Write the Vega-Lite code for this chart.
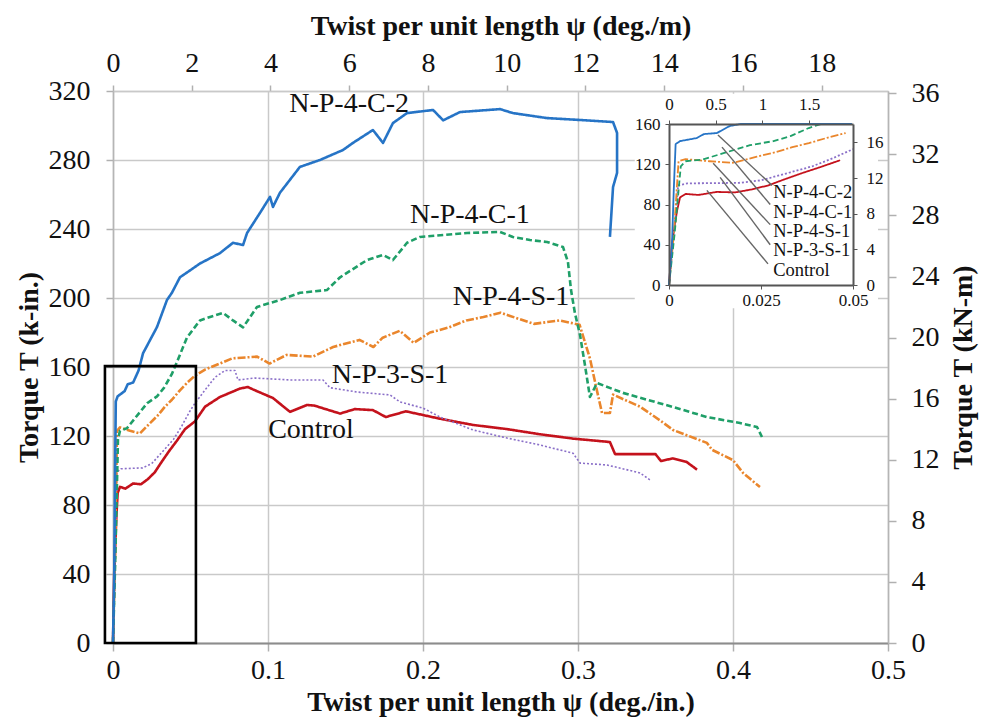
{
  "$schema": "https://vega.github.io/schema/vega-lite/v6.json",
  "width": 775,
  "height": 552,
  "autosize": {"type": "none"},
  "padding": {"left": 113, "top": 91, "right": 96, "bottom": 78},
  "background": "white",
  "config": {
    "view": {"stroke": null},
    "font": "Liberation Serif",
    "axis": {"labelFont": "Liberation Serif", "titleFont": "Liberation Serif", "labelColor": "#111", "titleColor": "#111"},
    "text": {"font": "Liberation Serif"}
  },
  "datasets": {
    "curves": [
      {"s": "Control", "i": 0, "x": 0, "y": 0},
      {"s": "Control", "i": 1, "x": 0.0008, "y": 41},
      {"s": "Control", "i": 2, "x": 0.0022, "y": 74},
      {"s": "Control", "i": 3, "x": 0.003, "y": 87},
      {"s": "Control", "i": 4, "x": 0.0045, "y": 90.5},
      {"s": "Control", "i": 5, "x": 0.008, "y": 89.5},
      {"s": "Control", "i": 6, "x": 0.013, "y": 92.5},
      {"s": "Control", "i": 7, "x": 0.018, "y": 92},
      {"s": "Control", "i": 8, "x": 0.0225, "y": 95},
      {"s": "Control", "i": 9, "x": 0.027, "y": 99},
      {"s": "Control", "i": 10, "x": 0.031, "y": 104.5},
      {"s": "Control", "i": 11, "x": 0.036, "y": 111},
      {"s": "Control", "i": 12, "x": 0.041, "y": 117},
      {"s": "Control", "i": 13, "x": 0.0465, "y": 124},
      {"s": "Control", "i": 14, "x": 0.0529, "y": 128.5},
      {"s": "Control", "i": 15, "x": 0.0594, "y": 137},
      {"s": "Control", "i": 16, "x": 0.069, "y": 142.6},
      {"s": "Control", "i": 17, "x": 0.0819, "y": 147.5},
      {"s": "Control", "i": 18, "x": 0.087, "y": 148.4},
      {"s": "Control", "i": 19, "x": 0.0903, "y": 147},
      {"s": "Control", "i": 20, "x": 0.1032, "y": 142},
      {"s": "Control", "i": 21, "x": 0.1142, "y": 134},
      {"s": "Control", "i": 22, "x": 0.1252, "y": 138},
      {"s": "Control", "i": 23, "x": 0.13, "y": 137.6},
      {"s": "Control", "i": 24, "x": 0.1465, "y": 133},
      {"s": "Control", "i": 25, "x": 0.156, "y": 135.6},
      {"s": "Control", "i": 26, "x": 0.1677, "y": 135},
      {"s": "Control", "i": 27, "x": 0.176, "y": 131},
      {"s": "Control", "i": 28, "x": 0.189, "y": 134.3},
      {"s": "Control", "i": 29, "x": 0.211, "y": 130},
      {"s": "Control", "i": 30, "x": 0.2323, "y": 126.4},
      {"s": "Control", "i": 31, "x": 0.2542, "y": 124},
      {"s": "Control", "i": 32, "x": 0.2755, "y": 121},
      {"s": "Control", "i": 33, "x": 0.2968, "y": 118.5},
      {"s": "Control", "i": 34, "x": 0.3206, "y": 116.5},
      {"s": "Control", "i": 35, "x": 0.3239, "y": 109.5},
      {"s": "Control", "i": 36, "x": 0.35, "y": 109.5},
      {"s": "Control", "i": 37, "x": 0.3535, "y": 105.5},
      {"s": "Control", "i": 38, "x": 0.361, "y": 107},
      {"s": "Control", "i": 39, "x": 0.37, "y": 105},
      {"s": "Control", "i": 40, "x": 0.3768, "y": 100.5},

      {"s": "N-P-3-S-1", "i": 0, "x": 0, "y": 0},
      {"s": "N-P-3-S-1", "i": 1, "x": 0.0012, "y": 45},
      {"s": "N-P-3-S-1", "i": 2, "x": 0.0025, "y": 99},
      {"s": "N-P-3-S-1", "i": 3, "x": 0.005, "y": 101},
      {"s": "N-P-3-S-1", "i": 4, "x": 0.019, "y": 101.5},
      {"s": "N-P-3-S-1", "i": 5, "x": 0.025, "y": 104},
      {"s": "N-P-3-S-1", "i": 6, "x": 0.033, "y": 112},
      {"s": "N-P-3-S-1", "i": 7, "x": 0.039, "y": 118},
      {"s": "N-P-3-S-1", "i": 8, "x": 0.0445, "y": 126},
      {"s": "N-P-3-S-1", "i": 9, "x": 0.05, "y": 135},
      {"s": "N-P-3-S-1", "i": 10, "x": 0.0529, "y": 139},
      {"s": "N-P-3-S-1", "i": 11, "x": 0.0594, "y": 146.7},
      {"s": "N-P-3-S-1", "i": 12, "x": 0.0658, "y": 154},
      {"s": "N-P-3-S-1", "i": 13, "x": 0.0723, "y": 158},
      {"s": "N-P-3-S-1", "i": 14, "x": 0.0787, "y": 158},
      {"s": "N-P-3-S-1", "i": 15, "x": 0.0806, "y": 152.5},
      {"s": "N-P-3-S-1", "i": 16, "x": 0.0916, "y": 153.6},
      {"s": "N-P-3-S-1", "i": 17, "x": 0.1142, "y": 152.5},
      {"s": "N-P-3-S-1", "i": 18, "x": 0.1355, "y": 152.5},
      {"s": "N-P-3-S-1", "i": 19, "x": 0.14, "y": 148},
      {"s": "N-P-3-S-1", "i": 20, "x": 0.1574, "y": 145.5},
      {"s": "N-P-3-S-1", "i": 21, "x": 0.1787, "y": 143.8},
      {"s": "N-P-3-S-1", "i": 22, "x": 0.1852, "y": 139.7},
      {"s": "N-P-3-S-1", "i": 23, "x": 0.2, "y": 136.2},
      {"s": "N-P-3-S-1", "i": 24, "x": 0.211, "y": 131},
      {"s": "N-P-3-S-1", "i": 25, "x": 0.2323, "y": 123.5},
      {"s": "N-P-3-S-1", "i": 26, "x": 0.2542, "y": 118.8},
      {"s": "N-P-3-S-1", "i": 27, "x": 0.2755, "y": 114.8},
      {"s": "N-P-3-S-1", "i": 28, "x": 0.2968, "y": 110},
      {"s": "N-P-3-S-1", "i": 29, "x": 0.3013, "y": 104.3},
      {"s": "N-P-3-S-1", "i": 30, "x": 0.3187, "y": 103.2},
      {"s": "N-P-3-S-1", "i": 31, "x": 0.34, "y": 98.6},
      {"s": "N-P-3-S-1", "i": 32, "x": 0.3465, "y": 94.5},

      {"s": "N-P-4-S-1", "i": 0, "x": 0, "y": 0},
      {"s": "N-P-4-S-1", "i": 1, "x": 0.0013, "y": 50},
      {"s": "N-P-4-S-1", "i": 2, "x": 0.0026, "y": 123},
      {"s": "N-P-4-S-1", "i": 3, "x": 0.0045, "y": 125},
      {"s": "N-P-4-S-1", "i": 4, "x": 0.011, "y": 123},
      {"s": "N-P-4-S-1", "i": 5, "x": 0.0174, "y": 121.5},
      {"s": "N-P-4-S-1", "i": 6, "x": 0.0239, "y": 127.5},
      {"s": "N-P-4-S-1", "i": 7, "x": 0.029, "y": 132},
      {"s": "N-P-4-S-1", "i": 8, "x": 0.0335, "y": 137},
      {"s": "N-P-4-S-1", "i": 9, "x": 0.038, "y": 141},
      {"s": "N-P-4-S-1", "i": 10, "x": 0.0432, "y": 146.5},
      {"s": "N-P-4-S-1", "i": 11, "x": 0.048, "y": 151},
      {"s": "N-P-4-S-1", "i": 12, "x": 0.0529, "y": 155},
      {"s": "N-P-4-S-1", "i": 13, "x": 0.0594, "y": 158.5},
      {"s": "N-P-4-S-1", "i": 14, "x": 0.077, "y": 165},
      {"s": "N-P-4-S-1", "i": 15, "x": 0.093, "y": 166},
      {"s": "N-P-4-S-1", "i": 16, "x": 0.101, "y": 162},
      {"s": "N-P-4-S-1", "i": 17, "x": 0.112, "y": 167},
      {"s": "N-P-4-S-1", "i": 18, "x": 0.129, "y": 166},
      {"s": "N-P-4-S-1", "i": 19, "x": 0.142, "y": 171.6},
      {"s": "N-P-4-S-1", "i": 20, "x": 0.159, "y": 175.7},
      {"s": "N-P-4-S-1", "i": 21, "x": 0.168, "y": 171.6},
      {"s": "N-P-4-S-1", "i": 22, "x": 0.174, "y": 177},
      {"s": "N-P-4-S-1", "i": 23, "x": 0.185, "y": 181},
      {"s": "N-P-4-S-1", "i": 24, "x": 0.194, "y": 174},
      {"s": "N-P-4-S-1", "i": 25, "x": 0.2045, "y": 180},
      {"s": "N-P-4-S-1", "i": 26, "x": 0.217, "y": 183},
      {"s": "N-P-4-S-1", "i": 27, "x": 0.228, "y": 187},
      {"s": "N-P-4-S-1", "i": 28, "x": 0.239, "y": 189},
      {"s": "N-P-4-S-1", "i": 29, "x": 0.25, "y": 191.5},
      {"s": "N-P-4-S-1", "i": 30, "x": 0.2548, "y": 190},
      {"s": "N-P-4-S-1", "i": 31, "x": 0.2716, "y": 185},
      {"s": "N-P-4-S-1", "i": 32, "x": 0.288, "y": 187},
      {"s": "N-P-4-S-1", "i": 33, "x": 0.301, "y": 184.5},
      {"s": "N-P-4-S-1", "i": 34, "x": 0.3077, "y": 165},
      {"s": "N-P-4-S-1", "i": 35, "x": 0.3123, "y": 146},
      {"s": "N-P-4-S-1", "i": 36, "x": 0.3155, "y": 133.3},
      {"s": "N-P-4-S-1", "i": 37, "x": 0.3206, "y": 133.3},
      {"s": "N-P-4-S-1", "i": 38, "x": 0.3226, "y": 144},
      {"s": "N-P-4-S-1", "i": 39, "x": 0.34, "y": 137},
      {"s": "N-P-4-S-1", "i": 40, "x": 0.3535, "y": 128.7},
      {"s": "N-P-4-S-1", "i": 41, "x": 0.3613, "y": 123.5},
      {"s": "N-P-4-S-1", "i": 42, "x": 0.3832, "y": 116},
      {"s": "N-P-4-S-1", "i": 43, "x": 0.3865, "y": 112},
      {"s": "N-P-4-S-1", "i": 44, "x": 0.4, "y": 106},
      {"s": "N-P-4-S-1", "i": 45, "x": 0.4065, "y": 98.6},
      {"s": "N-P-4-S-1", "i": 46, "x": 0.4174, "y": 90.4},

      {"s": "N-P-4-C-1", "i": 0, "x": 0, "y": 0},
      {"s": "N-P-4-C-1", "i": 1, "x": 0.0015, "y": 50},
      {"s": "N-P-4-C-1", "i": 2, "x": 0.0032, "y": 118},
      {"s": "N-P-4-C-1", "i": 3, "x": 0.0045, "y": 123},
      {"s": "N-P-4-C-1", "i": 4, "x": 0.009, "y": 124.5},
      {"s": "N-P-4-C-1", "i": 5, "x": 0.0148, "y": 131},
      {"s": "N-P-4-C-1", "i": 6, "x": 0.0175, "y": 134},
      {"s": "N-P-4-C-1", "i": 7, "x": 0.022, "y": 139},
      {"s": "N-P-4-C-1", "i": 8, "x": 0.0284, "y": 143},
      {"s": "N-P-4-C-1", "i": 9, "x": 0.033, "y": 148},
      {"s": "N-P-4-C-1", "i": 10, "x": 0.038, "y": 156},
      {"s": "N-P-4-C-1", "i": 11, "x": 0.0413, "y": 163},
      {"s": "N-P-4-C-1", "i": 12, "x": 0.0477, "y": 177},
      {"s": "N-P-4-C-1", "i": 13, "x": 0.0561, "y": 187},
      {"s": "N-P-4-C-1", "i": 14, "x": 0.0626, "y": 189},
      {"s": "N-P-4-C-1", "i": 15, "x": 0.071, "y": 191.3},
      {"s": "N-P-4-C-1", "i": 16, "x": 0.0774, "y": 187},
      {"s": "N-P-4-C-1", "i": 17, "x": 0.0839, "y": 183},
      {"s": "N-P-4-C-1", "i": 18, "x": 0.0929, "y": 194.8},
      {"s": "N-P-4-C-1", "i": 19, "x": 0.1077, "y": 198.8},
      {"s": "N-P-4-C-1", "i": 20, "x": 0.1206, "y": 203},
      {"s": "N-P-4-C-1", "i": 21, "x": 0.138, "y": 204.6},
      {"s": "N-P-4-C-1", "i": 22, "x": 0.1465, "y": 212},
      {"s": "N-P-4-C-1", "i": 23, "x": 0.1639, "y": 222},
      {"s": "N-P-4-C-1", "i": 24, "x": 0.1742, "y": 225},
      {"s": "N-P-4-C-1", "i": 25, "x": 0.1806, "y": 222},
      {"s": "N-P-4-C-1", "i": 26, "x": 0.1897, "y": 232},
      {"s": "N-P-4-C-1", "i": 27, "x": 0.198, "y": 235.4},
      {"s": "N-P-4-C-1", "i": 28, "x": 0.2284, "y": 237.7},
      {"s": "N-P-4-C-1", "i": 29, "x": 0.2497, "y": 238.3},
      {"s": "N-P-4-C-1", "i": 30, "x": 0.258, "y": 235.4},
      {"s": "N-P-4-C-1", "i": 31, "x": 0.269, "y": 233.6},
      {"s": "N-P-4-C-1", "i": 32, "x": 0.28, "y": 232.5},
      {"s": "N-P-4-C-1", "i": 33, "x": 0.2903, "y": 229.6},
      {"s": "N-P-4-C-1", "i": 34, "x": 0.2935, "y": 221},
      {"s": "N-P-4-C-1", "i": 35, "x": 0.2955, "y": 204.6},
      {"s": "N-P-4-C-1", "i": 36, "x": 0.298, "y": 191.3},
      {"s": "N-P-4-C-1", "i": 37, "x": 0.3013, "y": 178.6},
      {"s": "N-P-4-C-1", "i": 38, "x": 0.3045, "y": 161},
      {"s": "N-P-4-C-1", "i": 39, "x": 0.3077, "y": 142.6},
      {"s": "N-P-4-C-1", "i": 40, "x": 0.3123, "y": 150.7},
      {"s": "N-P-4-C-1", "i": 41, "x": 0.329, "y": 145},
      {"s": "N-P-4-C-1", "i": 42, "x": 0.3613, "y": 136.8},
      {"s": "N-P-4-C-1", "i": 43, "x": 0.3832, "y": 131},
      {"s": "N-P-4-C-1", "i": 44, "x": 0.4045, "y": 127.5},
      {"s": "N-P-4-C-1", "i": 45, "x": 0.4155, "y": 125.2},
      {"s": "N-P-4-C-1", "i": 46, "x": 0.4187, "y": 119.4},

      {"s": "N-P-4-C-2", "i": 0, "x": 0, "y": 0},
      {"s": "N-P-4-C-2", "i": 1, "x": 0.0008, "y": 40},
      {"s": "N-P-4-C-2", "i": 2, "x": 0.0013, "y": 95},
      {"s": "N-P-4-C-2", "i": 3, "x": 0.0018, "y": 140},
      {"s": "N-P-4-C-2", "i": 4, "x": 0.003, "y": 143},
      {"s": "N-P-4-C-2", "i": 5, "x": 0.0075, "y": 146},
      {"s": "N-P-4-C-2", "i": 6, "x": 0.0095, "y": 150},
      {"s": "N-P-4-C-2", "i": 7, "x": 0.013, "y": 151},
      {"s": "N-P-4-C-2", "i": 8, "x": 0.0165, "y": 158},
      {"s": "N-P-4-C-2", "i": 9, "x": 0.0194, "y": 168},
      {"s": "N-P-4-C-2", "i": 10, "x": 0.0239, "y": 175.6},
      {"s": "N-P-4-C-2", "i": 11, "x": 0.0284, "y": 183.2},
      {"s": "N-P-4-C-2", "i": 12, "x": 0.0348, "y": 198.8},
      {"s": "N-P-4-C-2", "i": 13, "x": 0.038, "y": 203},
      {"s": "N-P-4-C-2", "i": 14, "x": 0.0432, "y": 212},
      {"s": "N-P-4-C-2", "i": 15, "x": 0.0497, "y": 216},
      {"s": "N-P-4-C-2", "i": 16, "x": 0.0561, "y": 220},
      {"s": "N-P-4-C-2", "i": 17, "x": 0.069, "y": 226},
      {"s": "N-P-4-C-2", "i": 18, "x": 0.0774, "y": 232},
      {"s": "N-P-4-C-2", "i": 19, "x": 0.0839, "y": 230.7},
      {"s": "N-P-4-C-2", "i": 20, "x": 0.0865, "y": 237.7},
      {"s": "N-P-4-C-2", "i": 21, "x": 0.0948, "y": 249.3},
      {"s": "N-P-4-C-2", "i": 22, "x": 0.1013, "y": 258.6},
      {"s": "N-P-4-C-2", "i": 23, "x": 0.1032, "y": 252.8},
      {"s": "N-P-4-C-2", "i": 24, "x": 0.1077, "y": 261},
      {"s": "N-P-4-C-2", "i": 25, "x": 0.1206, "y": 276},
      {"s": "N-P-4-C-2", "i": 26, "x": 0.1335, "y": 280},
      {"s": "N-P-4-C-2", "i": 27, "x": 0.1484, "y": 285.8},
      {"s": "N-P-4-C-2", "i": 28, "x": 0.1548, "y": 289.9},
      {"s": "N-P-4-C-2", "i": 29, "x": 0.1677, "y": 297.4},
      {"s": "N-P-4-C-2", "i": 30, "x": 0.1742, "y": 289.9},
      {"s": "N-P-4-C-2", "i": 31, "x": 0.1806, "y": 301.4},
      {"s": "N-P-4-C-2", "i": 32, "x": 0.1897, "y": 307.2},
      {"s": "N-P-4-C-2", "i": 33, "x": 0.2065, "y": 309},
      {"s": "N-P-4-C-2", "i": 34, "x": 0.213, "y": 303},
      {"s": "N-P-4-C-2", "i": 35, "x": 0.2239, "y": 307.8},
      {"s": "N-P-4-C-2", "i": 36, "x": 0.2497, "y": 309.5},
      {"s": "N-P-4-C-2", "i": 37, "x": 0.258, "y": 307.2},
      {"s": "N-P-4-C-2", "i": 38, "x": 0.28, "y": 304.3},
      {"s": "N-P-4-C-2", "i": 39, "x": 0.3013, "y": 303.2},
      {"s": "N-P-4-C-2", "i": 40, "x": 0.3226, "y": 302},
      {"s": "N-P-4-C-2", "i": 41, "x": 0.3252, "y": 295.7},
      {"s": "N-P-4-C-2", "i": 42, "x": 0.3252, "y": 272.5},
      {"s": "N-P-4-C-2", "i": 43, "x": 0.3226, "y": 264.3},
      {"s": "N-P-4-C-2", "i": 44, "x": 0.3206, "y": 235.4}
    ],
    "labels": [
      {"t": "N-P-4-C-2", "lx": 0.1523, "ly": 312.5},
      {"t": "N-P-4-C-1", "lx": 0.2303, "ly": 248},
      {"t": "N-P-4-S-1", "lx": 0.2568, "ly": 200.6},
      {"t": "N-P-3-S-1", "lx": 0.1787, "ly": 155.4},
      {"t": "Control", "lx": 0.1277, "ly": 123.5}
    ],
    "box": [{"bx": -0.0052, "bx2": 0.0535, "by": 0, "by2": 160.5}],
    "axes2": [{"dpm": 0, "knm": 0}, {"dpm": 19.685, "knm": 36.15}],
    "insetbg": [{"gx": -0.0093, "gx2": 0.0568, "gy": -23, "gy2": 190}],
    "leaders": [
      {"t": "N-P-4-C-2", "ax": 0.0133, "ax2": 0.028, "ay": 149, "ay2": 99},
      {"t": "N-P-4-C-1", "ax": 0.0144, "ax2": 0.0275, "ay": 137, "ay2": 80},
      {"t": "N-P-4-S-1", "ax": 0.012, "ax2": 0.0275, "ay": 121, "ay2": 60},
      {"t": "N-P-3-S-1", "ax": 0.0139, "ax2": 0.0275, "ay": 107, "ay2": 40},
      {"t": "Control", "ax": 0.0103, "ax2": 0.0269, "ay": 94, "ay2": 21}
    ],
    "insetlabels": [
      {"t": "N-P-4-C-2", "nx": 0.0283, "ny": 92},
      {"t": "N-P-4-C-1", "nx": 0.0283, "ny": 73},
      {"t": "N-P-4-S-1", "nx": 0.0283, "ny": 54},
      {"t": "N-P-3-S-1", "nx": 0.0283, "ny": 34.5},
      {"t": "Control", "nx": 0.0283, "ny": 15}
    ],
    "insetaxes2": [{"dpm": 0, "knm": 0}, {"dpm": 1.9685, "knm": 18.077}]
  },
  "layer": [
    {
      "layer": [
        {
          "data": {"name": "curves"},
          "mark": {"type": "line", "strokeJoin": "round"},
          "encoding": {
            "x": {"field": "x", "type": "quantitative",
              "scale": {"domain": [0, 0.5], "nice": false, "zero": false},
              "axis": {"orient": "bottom", "values": [0, 0.1, 0.2, 0.3, 0.4, 0.5], "format": "~g", "labelFlush": false, "labelOverlap": false,
                "labelFontSize": 28, "labelPadding": 5, "tickSize": 8, "tickColor": "#b0b0b0", "tickWidth": 1.5,
                "grid": true, "gridColor": "#c9c9c9", "gridWidth": 1.5, "domainColor": "#8c8c8c", "domainWidth": 2.2,
                "title": "Twist per unit length ψ (deg./in.)", "titleFontSize": 28, "titleFontWeight": "bold", "titlePadding": 4}},
            "y": {"field": "y", "type": "quantitative",
              "scale": {"domain": [0, 320], "nice": false, "zero": false},
              "axis": {"orient": "left", "values": [0, 40, 80, 120, 160, 200, 240, 280, 320], "labelFontSize": 28, "labelPadding": 16,
                "tickSize": 7, "tickColor": "#b0b0b0", "tickWidth": 1.5, "grid": true, "gridColor": "#c9c9c9", "gridWidth": 1.5,
                "domainColor": "#b5b5b5", "domainWidth": 1.5,
                "title": "Torque T (k-in.)", "titleFontSize": 28, "titleFontWeight": "bold", "titlePadding": 5}},
            "color": {"field": "s", "type": "nominal",
              "scale": {"domain": ["N-P-4-C-2", "N-P-4-C-1", "N-P-4-S-1", "N-P-3-S-1", "Control"],
                "range": ["#2674c6", "#1f9f68", "#ea862c", "#8a6fc8", "#c4121c"]}, "legend": null},
            "strokeDash": {"field": "s", "type": "nominal",
              "scale": {"domain": ["N-P-4-C-2", "N-P-4-C-1", "N-P-4-S-1", "N-P-3-S-1", "Control"],
                "range": [[1, 0], [6, 3], [8, 2, 2, 2], [2, 2], [1, 0]]}, "legend": null},
            "strokeWidth": {"condition": {"test": "datum.s === 'N-P-3-S-1'", "value": 1.6}, "value": 2.6},
            "order": {"field": "i", "type": "quantitative"}
          }
        },
        {
          "data": {"name": "box"},
          "mark": {"type": "rect", "fillOpacity": 0, "stroke": "black", "strokeWidth": 2.6},
          "encoding": {
            "x": {"field": "bx", "type": "quantitative"},
            "x2": {"field": "bx2"},
            "y": {"field": "by", "type": "quantitative"},
            "y2": {"field": "by2"}
          }
        },
        {
          "data": {"name": "labels"},
          "mark": {"type": "text", "fontSize": 28, "font": "Liberation Serif", "color": "#111", "align": "center", "baseline": "middle"},
          "encoding": {
            "x": {"field": "lx", "type": "quantitative"},
            "y": {"field": "ly", "type": "quantitative"},
            "text": {"field": "t"}
          }
        }
      ]
    },
    {
      "data": {"name": "axes2"},
      "mark": {"type": "point", "opacity": 0},
      "encoding": {
        "x": {"field": "dpm", "type": "quantitative",
          "scale": {"domain": [0, 19.685], "nice": false, "zero": false},
          "axis": {"orient": "top", "values": [0, 2, 4, 6, 8, 10, 12, 14, 16, 18], "labelFlush": false, "labelOverlap": false,
            "labelFontSize": 28, "labelPadding": 8, "tickSize": 6, "tickColor": "#b0b0b0", "tickWidth": 1.5, "grid": false,
            "domainColor": "#c9c9c9", "domainWidth": 1.5,
            "title": "Twist per unit length ψ (deg./m)", "titleFontSize": 28, "titleFontWeight": "bold", "titlePadding": 9}},
        "y": {"field": "knm", "type": "quantitative",
          "scale": {"domain": [0, 36.15], "nice": false, "zero": false},
          "axis": {"orient": "right", "values": [0, 4, 8, 12, 16, 20, 24, 28, 32, 36], "labelFontSize": 28, "labelPadding": 15,
            "tickSize": 8, "tickColor": "#b0b0b0", "tickWidth": 1.5, "grid": false, "domainColor": "#b5b5b5", "domainWidth": 1.5,
            "title": "Torque T (kN-m)", "titleAngle": 270, "titleBaseline": "top", "titleFontSize": 28, "titleFontWeight": "bold", "titlePadding": 10}}
      }
    },
    {
      "data": {"name": "insetbg"},
      "mark": {"type": "rect", "fill": "white", "strokeWidth": 0},
      "encoding": {
        "x": {"field": "gx", "type": "quantitative", "scale": {"domain": [0, 0.05], "range": [556, 740], "nice": false, "zero": false}, "axis": null},
        "x2": {"field": "gx2"},
        "y": {"field": "gy", "type": "quantitative", "scale": {"domain": [0, 160], "range": [194, 33], "nice": false, "zero": false}, "axis": null},
        "y2": {"field": "gy2"}
      }
    },
    {
      "layer": [
        {
          "data": {"name": "curves"},
          "transform": [{"filter": "datum.x <= 0.0505"}],
          "mark": {"type": "line", "strokeJoin": "round"},
          "encoding": {
            "x": {"field": "x", "type": "quantitative",
              "scale": {"domain": [0, 0.05], "range": [556, 740], "clamp": true, "nice": false, "zero": false},
              "axis": {"orient": "bottom", "offset": -358, "values": [0, 0.025, 0.05], "format": "~g", "labelFlush": false, "labelOverlap": false,
                "labelFontSize": 17, "labelPadding": 3, "tickSize": 4, "tickColor": "#555", "domainColor": "#555", "domainWidth": 2,
                "grid": false, "title": null, "zindex": 1}},
            "y": {"field": "y", "type": "quantitative",
              "scale": {"domain": [0, 160], "range": [194, 33], "clamp": true, "nice": false, "zero": false},
              "axis": {"orient": "left", "offset": -556, "values": [0, 40, 80, 120, 160], "labelFontSize": 17, "labelPadding": 5,
                "tickSize": 4, "tickColor": "#555", "domainColor": "#555", "domainWidth": 2, "grid": false, "title": null, "zindex": 1}},
            "color": {"field": "s", "type": "nominal",
              "scale": {"domain": ["N-P-4-C-2", "N-P-4-C-1", "N-P-4-S-1", "N-P-3-S-1", "Control"],
                "range": ["#5b9ee0", "#4cbf8a", "#f2aa66", "#e0a0c8", "#d0304a"]}, "legend": null},
            "strokeDash": {"field": "s", "type": "nominal",
              "scale": {"domain": ["N-P-4-C-2", "N-P-4-C-1", "N-P-4-S-1", "N-P-3-S-1", "Control"],
                "range": [[1, 0], [4, 2], [6, 2, 2, 2], [2, 2], [1, 0]]}, "legend": null},
            "strokeWidth": {"value": 1.8},
            "order": {"field": "i", "type": "quantitative"}
          }
        },
        {
          "data": {"name": "leaders"},
          "mark": {"type": "rule", "color": "#666", "strokeWidth": 1.4},
          "encoding": {
            "x": {"field": "ax", "type": "quantitative"},
            "x2": {"field": "ax2"},
            "y": {"field": "ay", "type": "quantitative"},
            "y2": {"field": "ay2"}
          }
        },
        {
          "data": {"name": "insetlabels"},
          "mark": {"type": "text", "fontSize": 18.5, "font": "Liberation Serif", "color": "#111", "align": "left", "baseline": "middle"},
          "encoding": {
            "x": {"field": "nx", "type": "quantitative"},
            "y": {"field": "ny", "type": "quantitative"},
            "text": {"field": "t"}
          }
        }
      ]
    },
    {
      "data": {"name": "insetaxes2"},
      "mark": {"type": "point", "opacity": 0},
      "encoding": {
        "x": {"field": "dpm", "type": "quantitative",
          "scale": {"domain": [0, 1.9685], "range": [556, 740], "nice": false, "zero": false},
          "axis": {"orient": "top", "offset": -33, "values": [0, 0.5, 1, 1.5], "format": "~g", "labelFlush": false, "labelOverlap": false,
            "labelFontSize": 17, "labelPadding": 7, "tickSize": 4, "tickColor": "#555", "domainColor": "#555", "domainWidth": 2,
            "grid": false, "title": null, "zindex": 1}},
        "y": {"field": "knm", "type": "quantitative",
          "scale": {"domain": [0, 18.077], "range": [194, 33], "nice": false, "zero": false},
          "axis": {"orient": "right", "offset": -35, "values": [0, 4, 8, 12, 16], "labelFontSize": 17, "labelPadding": 9,
            "tickSize": 4, "tickColor": "#555", "domainColor": "#555", "domainWidth": 2, "grid": false, "title": null, "zindex": 1}}
      }
    }
  ],
  "resolve": {"scale": {"x": "independent", "y": "independent"}}
}
